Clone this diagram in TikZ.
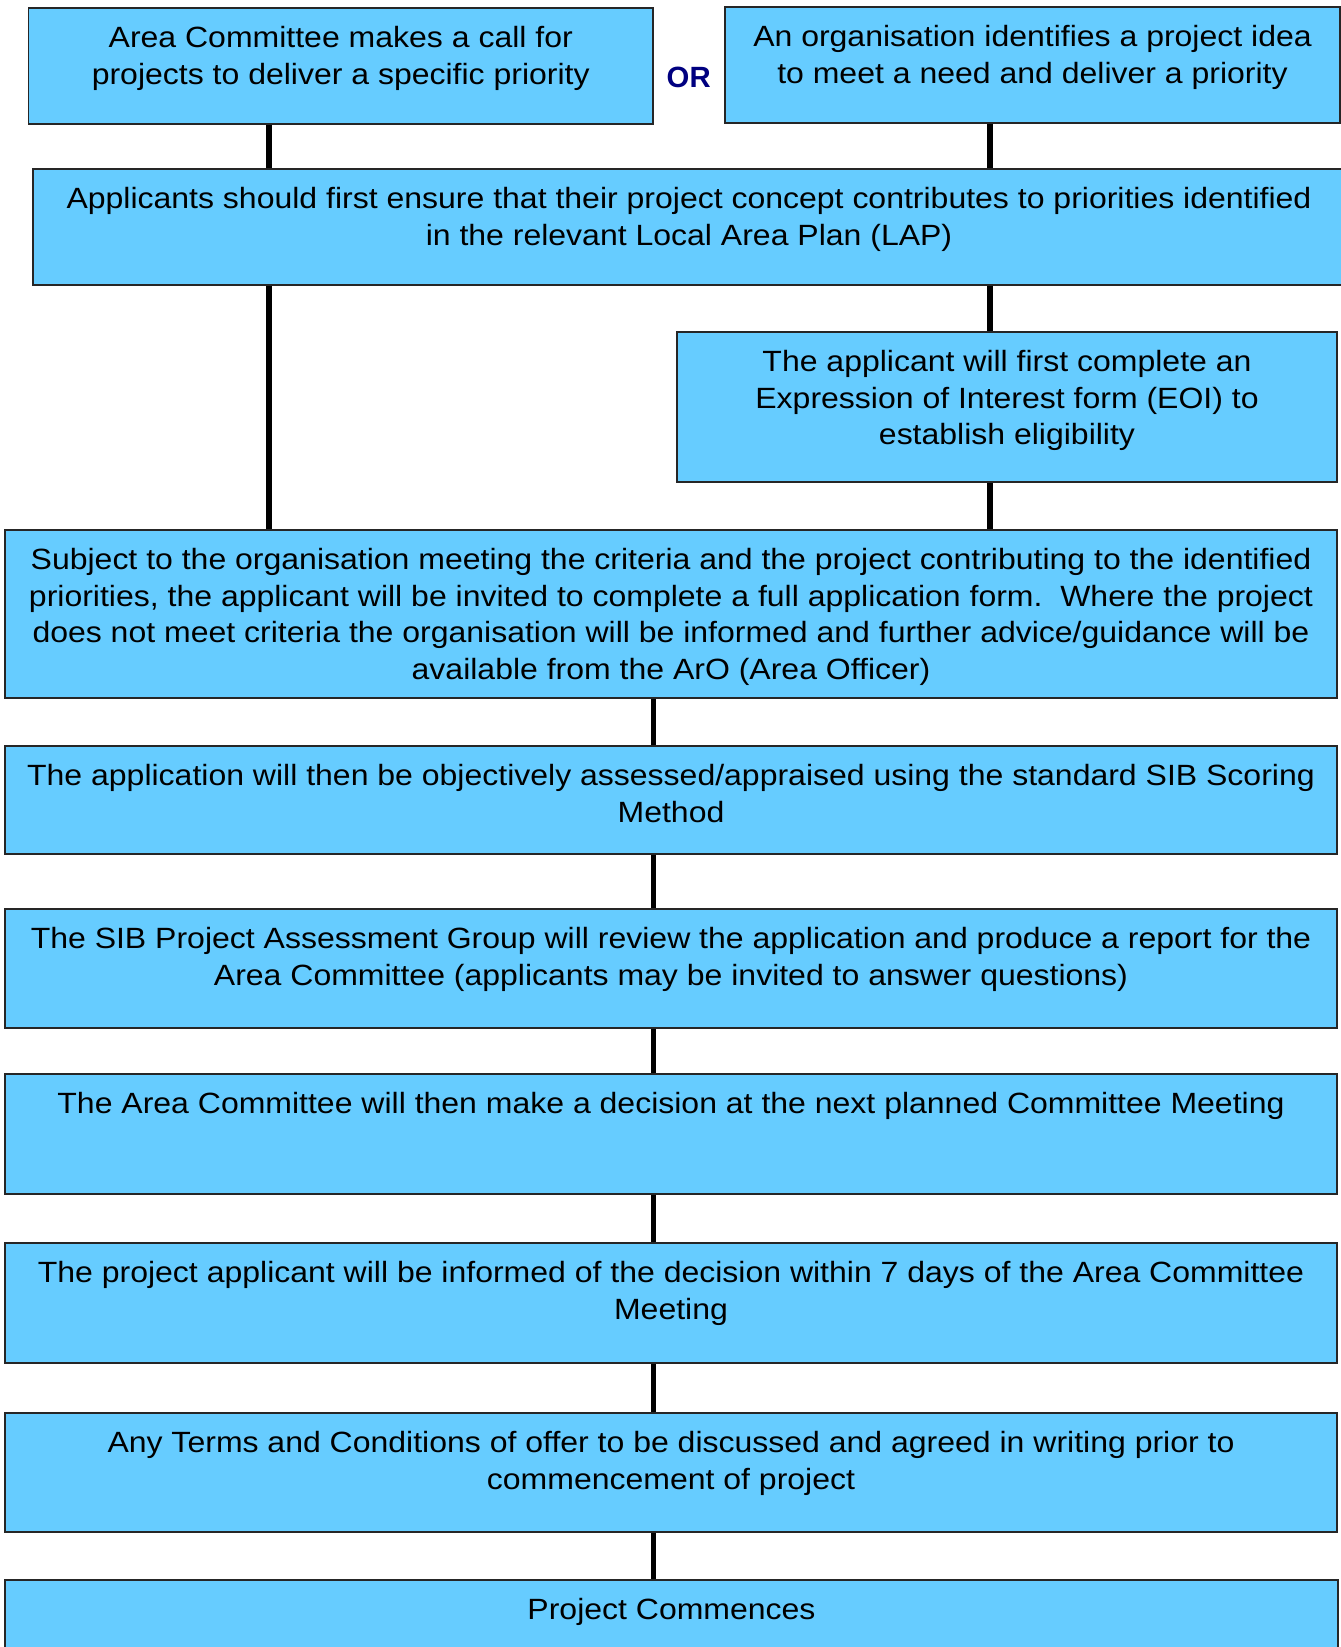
\documentclass[tikz,border=0pt]{standalone}
\usepackage{fontspec}
\setmainfont{Liberation Sans}[FakeStretch=1.092]
\newfontfamily\orfont{Liberation Sans}
\usetikzlibrary{positioning}
\definecolor{boxblue}{RGB}{102,204,255}
\definecolor{ornavy}{RGB}{0,0,128}
\tikzset
{
    stepbox/.style  = {rectangle, draw=black!85, fill=boxblue, line width=1.5pt, inner sep=0pt},
    steptext/.style = {anchor=north, align=center, inner sep=0pt, font=\fontsize{29.3}{36.7}\selectfont},
    link/.style     = {line width=5.3pt}
}

\begin{document}
\begin{tikzpicture}[x=1pt, y=-1pt]
\clip (0,0) rectangle (1341,1647);
\coordinate (lft) at (269,0);
\coordinate (rgt) at (990,0);
\coordinate (mid) at (653.3,0);
% boxes
\node [stepbox, minimum width=624.5pt, minimum height=116pt] at (340.75,66) (call) {};
\node [stepbox, minimum width=615pt, minimum height=116pt] at (1032.5,65) (idea) {};
\node [stepbox, minimum width=1312pt, minimum height=116pt] at (689,227) (lap) {};
\node [stepbox, minimum width=660pt, minimum height=150pt] at (1007,407) (eoi) {};
\node [stepbox, minimum width=1332pt, minimum height=168pt] at (671,614) (invite) {};
\node [stepbox, minimum width=1332pt, minimum height=108pt] at (671,800) (assess) {};
\node [stepbox, minimum width=1332pt, minimum height=119pt] at (671,968.5) (review) {};
\node [stepbox, minimum width=1332pt, minimum height=120pt] at (671,1134) (decide) {};
\node [stepbox, minimum width=1332pt, minimum height=120pt] at (671,1303) (inform) {};
\node [stepbox, minimum width=1332pt, minimum height=119pt] at (671,1472.5) (terms) {};
\node [stepbox, minimum width=1333pt, minimum height=120pt] at (671.5,1640) (start) {};
% texts
\node [steptext, below=14.3pt of call.north] (callTxt) {\strut Area Committee makes a call for\\projects to deliver a specific priority};
\node [steptext, below=14.3pt of idea.north] (ideaTxt) {\strut An organisation identifies a project idea\\to meet a need and deliver a priority};
\node [steptext, below=14.3pt of lap.north] (lapTxt) {\strut Applicants should first ensure that their project concept contributes to priorities identified\\in the relevant Local Area Plan (LAP)};
\node [steptext, below=14.3pt of eoi.north] (eoiTxt) {\strut The applicant will first complete an\\Expression of Interest form (EOI) to\\establish eligibility};
\node [steptext, below=14.3pt of invite.north] (inviteTxt) {\strut Subject to the organisation meeting the criteria and the project contributing to the identified\\priorities, the applicant will be invited to complete a full application form.\ \ Where the project\\does not meet criteria the organisation will be informed and further advice/guidance will be\\available from the ArO (Area Officer)};
\node [steptext, below=14.3pt of assess.north] (assessTxt) {\strut The application will then be objectively assessed/appraised using the standard SIB Scoring\\Method};
\node [steptext, below=14.3pt of review.north] (reviewTxt) {\strut The SIB Project Assessment Group will review the application and produce a report for the\\Area Committee (applicants may be invited to answer questions)};
\node [steptext, below=14.3pt of decide.north] (decideTxt) {\strut The Area Committee will then make a decision at the next planned Committee Meeting};
\node [steptext, below=14.3pt of inform.north] (informTxt) {\strut The project applicant will be informed of the decision within 7 days of the Area Committee\\Meeting};
\node [steptext, below=14.3pt of terms.north] (termsTxt) {\strut Any Terms and Conditions of offer to be discussed and agreed in writing prior to\\commencement of project};
\node [steptext, below=14.3pt of start.north] (startTxt) {\strut Project Commences};
\node [font=\orfont\fontsize{29.3}{36.7}\selectfont\bfseries, text=ornavy, inner sep=0pt] at (688.7,77.5) (or) {OR};
% links
\draw [link] (call.south -| lft) -- (lap.north -| lft);
\draw [link] (idea.south -| rgt) -- (lap.north -| rgt);
\draw [link] (lap.south -| lft) -- (invite.north -| lft);
\draw [link] (lap.south -| rgt) -- (eoi.north -| rgt);
\draw [link] (eoi.south -| rgt) -- (invite.north -| rgt);
\draw [link] (invite.south -| mid) -- (assess.north -| mid);
\draw [link] (assess.south -| mid) -- (review.north -| mid);
\draw [link] (review.south -| mid) -- (decide.north -| mid);
\draw [link] (decide.south -| mid) -- (inform.north -| mid);
\draw [link] (inform.south -| mid) -- (terms.north -| mid);
\draw [link] (terms.south -| mid) -- (start.north -| mid);
\end{tikzpicture}
\end{document}
